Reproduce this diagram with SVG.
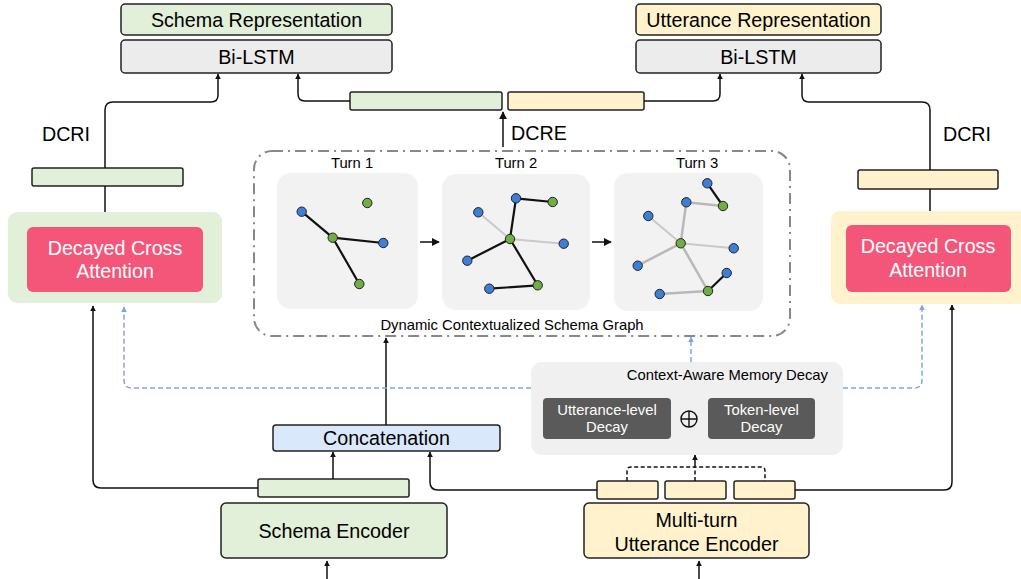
<svg xmlns="http://www.w3.org/2000/svg" width="1021" height="579" viewBox="0 0 1021 579">
<defs>
<marker id="ah" viewBox="0 0 10 10" refX="9" refY="5" markerWidth="6" markerHeight="6" markerUnits="userSpaceOnUse" orient="auto"><path d="M0,0 L10,5 L0,10 z" fill="#111"/></marker>
<marker id="ahb" viewBox="0 0 10 10" refX="9" refY="5" markerWidth="8" markerHeight="8" markerUnits="userSpaceOnUse" orient="auto"><path d="M0,0 L10,5 L0,10 z" fill="#111"/></marker>
<marker id="ahblue" viewBox="0 0 10 10" refX="9" refY="5" markerWidth="6" markerHeight="6" markerUnits="userSpaceOnUse" orient="auto"><path d="M0,0 L10,5 L0,10 z" fill="#7ea6e0"/></marker>
</defs>
<style>
text{font-family:"Liberation Sans",Arial,Helvetica,sans-serif;fill:#000}
.big{font-size:19.7px;text-anchor:middle;dominant-baseline:central}
.sm{font-size:14.8px;text-anchor:middle;dominant-baseline:central}
.wt{fill:#fff}
.box{stroke:#222;stroke-width:1.5}
.g{fill:#e2efd9}
.y{fill:#fff2cc}
.gr{fill:#ececec}
.pink{fill:#f4567a}
.panel{fill:#f2f2f2}
.dark{fill:#5a5a5a}
.ln{fill:none;stroke:#111;stroke-width:1.5}
.blue{fill:none;stroke:#7ea6e0;stroke-width:1.5;stroke-dasharray:5 3}
.e{stroke:#111;stroke-width:2.2}
.el{stroke:#c9c9c9;stroke-width:2}
.em{stroke:#b8b8b8;stroke-width:2.5}
.nb{fill:#3d7fd6;stroke:#222;stroke-width:1}
.ng{fill:#6fae45;stroke:#222;stroke-width:1}
</style>
<rect width="1021" height="579" fill="#fff"/>

<g id="schema-representation"><rect class="box g" x="121" y="4" width="271" height="31" rx="4"/><text class="big" x="256.5" y="19.5">Schema Representation</text></g>
<g id="bilstm-left"><rect class="box gr" x="121" y="40" width="271" height="33" rx="4"/><text class="big" x="256.5" y="56.5">Bi-LSTM</text></g>
<g id="utterance-representation"><rect class="box y" x="636" y="4" width="245" height="31" rx="4"/><text class="big" x="758.5" y="19.5">Utterance Representation</text></g>
<g id="bilstm-right"><rect class="box gr" x="636" y="40" width="245" height="33" rx="4"/><text class="big" x="758.5" y="56.5">Bi-LSTM</text></g>

<g id="dcre-bars"><rect class="box g" x="350" y="92" width="152" height="18" rx="2"/><rect class="box y" x="508" y="92" width="136" height="18" rx="2"/></g>
<g id="dcre-label"><text class="big" x="511" y="133" style="text-anchor:start">DCRE</text></g>
<g id="dcri-left-label"><text class="big" x="66" y="134">DCRI</text></g>
<g id="dcri-right-label"><text class="big" x="967" y="134">DCRI</text></g>

<g id="left-bar"><rect class="box g" x="32" y="168" width="151" height="18" rx="2"/></g>
<g id="right-bar"><rect class="box y" x="858" y="170" width="140" height="19" rx="2"/></g>

<g id="left-attention"><rect class="g" x="8" y="212" width="214" height="91" rx="9"/><rect class="pink" x="27" y="227" width="176" height="65" rx="6"/><text class="big wt" x="115" y="248">Decayed Cross</text><text class="big wt" x="115" y="271">Attention</text></g>
<g id="right-attention"><rect class="y" x="831" y="211" width="200" height="93" rx="9"/><rect class="pink" x="846" y="225" width="165" height="67" rx="6"/><text class="big wt" x="928" y="246">Decayed Cross</text><text class="big wt" x="928" y="270">Attention</text></g>

<g id="schema-graph">
<rect x="254" y="151" width="536" height="185" rx="18" fill="none" stroke="#888" stroke-width="2" stroke-dasharray="11 5 2 5"/>
<text class="sm" x="512" y="325">Dynamic Contextualized Schema Graph</text>
</g>

<g id="turn1">
<text class="sm" x="352" y="163">Turn 1</text>
<rect class="panel" x="277" y="173" width="141" height="136" rx="14"/>
<line class="e" x1="301.7" y1="211.7" x2="332.7" y2="237.7"/>
<line class="e" x1="332.7" y1="237.7" x2="383.3" y2="243"/>
<line class="e" x1="332.7" y1="237.7" x2="359.3" y2="284"/>
<circle class="nb" cx="301.7" cy="211.7" r="4.7"/>
<circle class="ng" cx="332.7" cy="237.7" r="4.7"/>
<circle class="nb" cx="383.3" cy="243" r="4.7"/>
<circle class="ng" cx="359.3" cy="284" r="4.7"/>
<circle class="ng" cx="367.3" cy="203" r="4.7"/>
</g>

<g id="turn2">
<text class="sm" x="516" y="163">Turn 2</text>
<rect class="panel" x="442" y="174" width="148" height="136" rx="14"/>
<line class="el" x1="478.3" y1="212.3" x2="510" y2="239"/>
<line class="el" x1="510" y1="239" x2="563.7" y2="243.7"/>
<line class="e" x1="516" y1="198.3" x2="552.7" y2="202"/>
<line class="e" x1="516" y1="198.3" x2="510" y2="239"/>
<line class="e" x1="510" y1="239" x2="467.3" y2="260.7"/>
<line class="e" x1="510" y1="239" x2="537.7" y2="285.3"/>
<line class="e" x1="537.7" y1="285.3" x2="489.3" y2="288.7"/>
<circle class="nb" cx="516" cy="198.3" r="4.7"/>
<circle class="ng" cx="552.7" cy="202" r="4.7"/>
<circle class="nb" cx="478.3" cy="212.3" r="4.7"/>
<circle class="ng" cx="510" cy="239" r="4.7"/>
<circle class="nb" cx="563.7" cy="243.7" r="4.7"/>
<circle class="nb" cx="467.3" cy="260.7" r="4.7"/>
<circle class="ng" cx="537.7" cy="285.3" r="4.7"/>
<circle class="nb" cx="489.3" cy="288.7" r="4.7"/>
</g>

<g id="turn3">
<text class="sm" x="697" y="163">Turn 3</text>
<rect class="panel" x="614" y="173" width="149" height="138" rx="14"/>
<line class="el" x1="648.3" y1="216" x2="680.7" y2="243.3"/>
<line class="el" x1="680.7" y1="243.3" x2="733.7" y2="248.3"/>
<line class="em" x1="686.3" y1="202.3" x2="723" y2="206"/>
<line class="em" x1="686.3" y1="202.3" x2="680.7" y2="243.3"/>
<line class="em" x1="680.7" y1="243.3" x2="637.7" y2="265.7"/>
<line class="em" x1="680.7" y1="243.3" x2="708" y2="291"/>
<line class="em" x1="708" y1="291" x2="659.7" y2="294"/>
<line class="e" x1="707.3" y1="183.3" x2="723" y2="206"/>
<line class="e" x1="708" y1="291" x2="726.7" y2="273"/>
<circle class="nb" cx="707.3" cy="183.3" r="4.7"/>
<circle class="ng" cx="723" cy="206" r="4.7"/>
<circle class="nb" cx="686.3" cy="202.3" r="4.7"/>
<circle class="nb" cx="648.3" cy="216" r="4.7"/>
<circle class="ng" cx="680.7" cy="243.3" r="4.7"/>
<circle class="nb" cx="733.7" cy="248.3" r="4.7"/>
<circle class="nb" cx="637.7" cy="265.7" r="4.7"/>
<circle class="nb" cx="726.7" cy="273" r="4.7"/>
<circle class="ng" cx="708" cy="291" r="4.7"/>
<circle class="nb" cx="659.7" cy="294" r="4.7"/>
</g>

<g id="memory-decay">
<rect x="531" y="362" width="312" height="93" rx="11" fill="#f0f0f0"/>
<text class="sm" x="828" y="375" style="text-anchor:end">Context-Aware Memory Decay</text>
<rect class="dark" x="543" y="398" width="128" height="41" rx="4"/>
<text class="sm wt" x="607" y="410">Utterance-level</text><text class="sm wt" x="607" y="427">Decay</text>
<rect class="dark" x="708" y="398" width="107" height="41" rx="4"/>
<text class="sm wt" x="761.5" y="410">Token-level</text><text class="sm wt" x="761.5" y="427">Decay</text>
<circle cx="689" cy="419" r="8" fill="none" stroke="#111" stroke-width="1.4"/>
<path d="M681,419 H697 M689,411 V427" stroke="#111" stroke-width="1.4"/>
</g>

<g id="concatenation"><rect class="box" x="273" y="425" width="227" height="26" rx="3" fill="#dae8fc"/><text class="big" x="386.5" y="438">Concatenation</text></g>

<g id="schema-bar"><rect class="box g" x="258" y="479" width="151" height="18" rx="2"/></g>
<g id="utterance-bars"><rect class="box y" x="597" y="481" width="61" height="18" rx="2"/><rect class="box y" x="665" y="481" width="61" height="18" rx="2"/><rect class="box y" x="734" y="481" width="61" height="18" rx="2"/></g>

<g id="schema-encoder"><rect class="box g" x="221" y="503" width="226" height="55" rx="5"/><text class="big" x="334" y="531">Schema Encoder</text></g>
<g id="utterance-encoder"><rect class="box y" x="584" y="503" width="225" height="55" rx="5"/><text class="big" x="696.5" y="520">Multi-turn</text><text class="big" x="696.5" y="544">Utterance Encoder</text></g>

<g id="connectors">
<path class="ln" d="M105,168 V110 Q105,102 113,102 H211 Q218,102 218,95 V74" marker-end="url(#ah)"/>
<path class="ln" d="M350,101 H305 Q298,101 298,94 V74" marker-end="url(#ah)"/>
<path class="ln" d="M644,101 H713 Q720,101 720,94 V74" marker-end="url(#ah)"/>
<path class="ln" d="M930,170 V110 Q930,102 922,102 H809 Q802,102 802,95 V74" marker-end="url(#ah)"/>
<path class="ln" d="M105,186 V212"/>
<path class="ln" d="M930,189 V211"/>
<path class="ln" d="M503,147 V112" stroke-width="2" marker-end="url(#ahb)"/>
<path class="ln" d="M420,242 H439" stroke-width="2.5" marker-end="url(#ahb)"/>
<path class="ln" d="M592,242 H611" stroke-width="2.5" marker-end="url(#ahb)"/>
<path class="ln" d="M386,425 V338" marker-end="url(#ah)"/>
<path class="ln" d="M333,479 V452" marker-end="url(#ah)"/>
<path class="ln" d="M258,488 H101 Q93,488 93,480 V306" marker-end="url(#ah)"/>
<path class="ln" d="M597,490 H438 Q430,490 430,482 V452" marker-end="url(#ah)"/>
<path class="ln" d="M795,490 H944 Q952,490 952,482 V305" marker-end="url(#ah)"/>
<path class="blue" d="M531,388 H132 Q124,388 124,380 V307" marker-end="url(#ahblue)"/>
<path class="blue" d="M843,388 H914 Q922,388 922,380 V305" marker-end="url(#ahblue)"/>
<path class="blue" d="M691,362 V337" marker-end="url(#ahblue)"/>
<path class="ln" d="M627,481 V471 Q627,467 631,467 H761 Q765,467 765,471 V481 M695,481 V467" stroke-dasharray="4 2.5" stroke-width="1.3"/>
<path class="ln" d="M695,467 V455" marker-end="url(#ah)"/>
<path class="ln" d="M327,579 V561" marker-end="url(#ah)"/>
<path class="ln" d="M699,579 V561" marker-end="url(#ah)"/>
</g>
</svg>
